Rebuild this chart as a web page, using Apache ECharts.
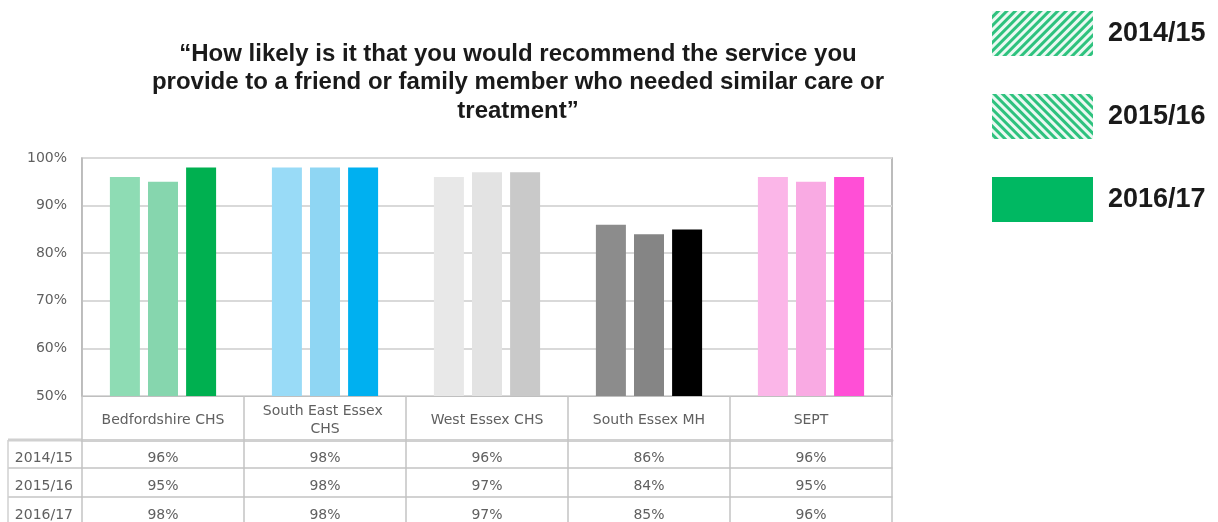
<!DOCTYPE html>
<html><head><meta charset="utf-8">
<script src="https://cdn.jsdelivr.net/npm/echarts@6/dist/echarts.min.js"></script>
<style>html,body{margin:0;padding:0;background:#fff}#c{width:1218px;height:522px}</style>
</head><body><div id="c"></div>
<script>
// ---- data ----
const categories = ['Bedfordshire CHS', 'South East Essex CHS', 'West Essex CHS', 'South Essex MH', 'SEPT'];
const years = ['2014/15', '2015/16', '2016/17'];
const values2014 = [96, 98, 96, 86, 96];
const values2015 = [95, 98, 97, 84, 95];
const values2016 = [98, 98, 97, 85, 96];
const titleText = '\u201cHow likely is it that you would recommend the service you\nprovide to a friend or family member who needed similar care or\ntreatment\u201d';

// ---- styles ----
const colors2014 = ['#8edcb4', '#99dbf7', '#e8e8e8', '#8c8c8c', '#fbb6e8'];
const colors2015 = ['#86d6ae', '#8fd6f3', '#e3e3e3', '#858585', '#f9aae3'];
const colors2016 = ['#00b050', '#00b0f0', '#c9c9c9', '#000000', '#ff4fd6'];
const legendColors = ['#2ec27e', '#2ec27e', '#00b862'];
const stripe = (rot) => ({ symbol: 'rect', symbolSize: 1, color: 'rgba(255,255,255,0.9)', dashArrayX: [1, 0], dashArrayY: [3, 3], rotation: rot });
const legendDecals = [stripe(-Math.PI / 4), stripe(Math.PI / 4), null];
const barDecal = { symbol: 'rect', symbolSize: 1, color: 'rgba(255,255,255,0)', dashArrayX: [1, 0], dashArrayY: [2, 2] };

const valueSets = [values2014, values2015, values2016];
const colorSets = [colors2014, colors2015, colors2016];
const smallFont = { color: '#606060', fontFamily: 'DejaVu Sans', fontSize: 14 };
const rowOffsets = [44, 72, 101];

const chart = echarts.init(document.getElementById('c'), null, { renderer: 'canvas' });

const series = years.map((y, i) => {
  const s = {
    type: 'bar', name: y, xAxisIndex: 0, barWidth: 30, barGap: '27%',
    itemStyle: { color: legendColors[i] },
    data: valueSets[i].map((v, j) => ({ value: v, itemStyle: legendDecals[i] ? { color: colorSets[i][j], decal: barDecal } : { color: colorSets[i][j] } }))
  };
  if (legendDecals[i]) s.itemStyle.decal = legendDecals[i];
  return s;
});

const rowAxes = years.map((y, i) => ({
  type: 'category', data: categories, gridIndex: 0, position: 'bottom', offset: rowOffsets[i],
  axisLine: { show: true, lineStyle: i === 0 ? { color: '#d0d0d0', width: 3 } : { color: '#c4c4c4', width: 1.5 } },
  axisTick: { show: false },
  axisLabel: Object.assign({ interval: 0, margin: 11, formatter: (v, idx) => valueSets[i][idx] + '%' }, smallFont),
  name: y, nameLocation: 'start', nameGap: 9,
  nameTextStyle: Object.assign({ verticalAlign: 'top', align: 'right', padding: [11, 0, 0, 0] }, smallFont)
}));

chart.setOption({
  animation: false,
  title: {
    text: titleText, left: 513, top: 35, textAlign: 'center',
    textStyle: { fontFamily: 'Liberation Sans', fontWeight: 'bold', fontSize: 24, lineHeight: 28.5, color: '#1a1a1a' }
  },
  legend: {
    orient: 'vertical', left: 987, top: 6, itemWidth: 101, itemHeight: 45, itemGap: 38,
    icon: 'rect', data: years,
    textStyle: { fontFamily: 'Liberation Sans', fontWeight: 'bold', fontSize: 27, color: '#1a1a1a', padding: [0, 0, 0, 10] }
  },
  grid: { left: 82, right: 326, top: 158, bottom: 126, show: true, borderColor: '#a6a6a6', borderWidth: 1.5, outerBoundsMode: 'none' },
  xAxis: [
    {
      type: 'category', data: categories, position: 'bottom', offset: 0,
      axisLine: { show: true, lineStyle: { color: '#bfbfbf' } },
      axisTick: { show: true, length: 126, lineStyle: { color: '#c4c4c4', width: 1.5 } },
      axisLabel: Object.assign({ interval: 0, width: 140, overflow: 'break', lineHeight: 18, verticalAlign: 'middle', margin: 24 }, smallFont)
    }
  ].concat(rowAxes),
  yAxis: {
    type: 'value', min: 50, max: 100, interval: 10,
    axisLine: { show: true, lineStyle: { color: '#bfbfbf' } },
    axisTick: { show: false },
    splitLine: { lineStyle: { color: '#d9d9d9', width: 2 } },
    axisLabel: Object.assign({ formatter: '{value}%', margin: 15 }, smallFont)
  },
  graphic: [
    { type: 'line', shape: { x1: 8, y1: 440, x2: 82, y2: 440 }, style: { stroke: '#d0d0d0', lineWidth: 3 } },
    { type: 'line', shape: { x1: 8, y1: 468, x2: 82, y2: 468 }, style: { stroke: '#c4c4c4', lineWidth: 1.5 } },
    { type: 'line', shape: { x1: 8, y1: 497, x2: 82, y2: 497 }, style: { stroke: '#c4c4c4', lineWidth: 1.5 } },
    { type: 'line', shape: { x1: 8, y1: 440, x2: 8, y2: 522 }, style: { stroke: '#d0d0d0', lineWidth: 1.5 } }
  ],
  series: series
});
</script>
</body></html>
